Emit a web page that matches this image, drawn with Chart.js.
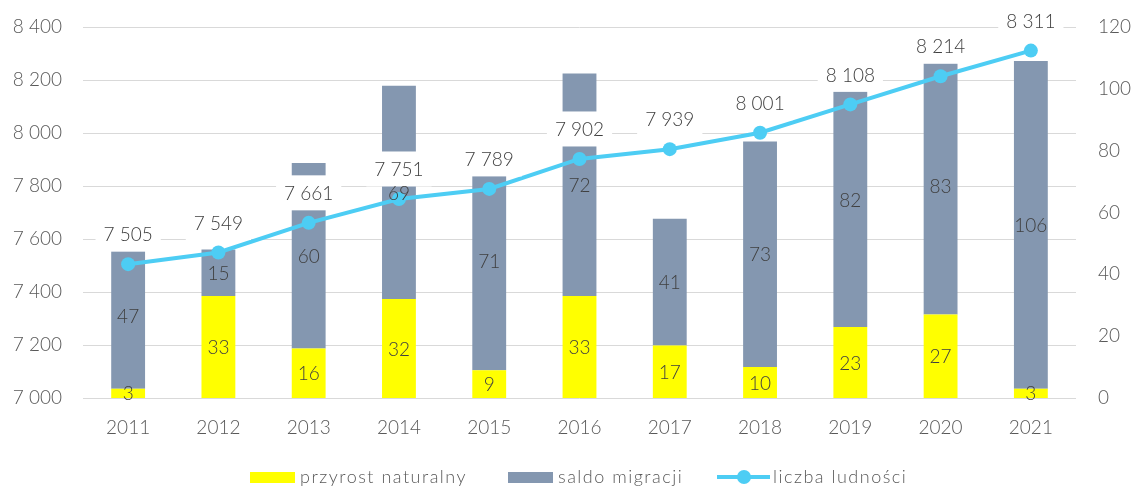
<!DOCTYPE html>
<html><head><meta charset="utf-8">
<script src="https://cdn.jsdelivr.net/npm/chart.js@4.4.1/dist/chart.umd.min.js"></script>
<style>html,body{margin:0;padding:0;background:#fff}#wrap{width:1136px;height:487px}</style>
</head><body><div id="wrap"><canvas id="c" width="1136" height="487"></canvas></div>
<script>
const years = ['2011','2012','2013','2014','2015','2016','2017','2018','2019','2020','2021'];
const przyrost = [3,33,16,32,9,33,17,10,23,27,3];
const saldo = [47,15,60,69,71,72,41,73,82,83,106];
const ludnosc = [7505,7549,7661,7751,7789,7902,7939,8001,8108,8214,8311];
const leftTicks = [7000,7200,7400,7600,7800,8000,8200,8400];
const rightTicks = [0,20,40,60,80,100,120];
const seriesNames = ['przyrost naturalny','saldo migracji','liczba ludności'];

const YELLOW = '#ffff00', GRAY = '#8497b0', CYAN = '#4dcdf4';
const TXT = '#595959', LBL = '#404040';
const FONT = 'Lato, "Noto Sans", sans-serif';

function fmt(v){ return String(v).replace(/\B(?=(\d{3})+(?!\d))/g, ' '); }

const labelPlugin = {
  id: 'lbl',
  afterDatasetsDraw(chart){
    const ctx = chart.ctx;
    ctx.save();
    ctx.font = '300 19px ' + FONT;
    ctx.textAlign = 'center';
    ctx.textBaseline = 'middle';
    const lm = chart.getDatasetMeta(2);
    lm.data.forEach((pt, i) => {
      const t = fmt(ludnosc[i]);
      const w = ctx.measureText(t).width + 16;
      const cy = pt.y - 30;
      ctx.fillStyle = '#fff';
      ctx.fillRect(pt.x - w/2, cy - 17.5, w, 35);
      ctx.fillStyle = LBL;
      ctx.fillText(t, pt.x, cy + 1);
    });
    [0,1].forEach(di => {
      const meta = chart.getDatasetMeta(di);
      const vals = chart.data.datasets[di].data;
      meta.data.forEach((el, i) => {
        const p = el.getProps(['x','y','base'], true);
        ctx.fillStyle = LBL;
        ctx.fillText(String(vals[i]), p.x, (p.y + p.base)/2 + 1);
      });
    });
    ctx.restore();
  },
  afterDraw(chart){
    const ctx = chart.ctx;
    ctx.save();
    ctx.font = '300 18px ' + FONT;
    try { ctx.letterSpacing = '1.5px'; } catch(e) {}
    ctx.textBaseline = 'middle';
    ctx.textAlign = 'left';
    const cy = 477;
    ctx.fillStyle = YELLOW; ctx.fillRect(250, cy-5, 45, 11);
    ctx.fillStyle = GRAY; ctx.fillRect(508, cy-5, 45, 11);
    ctx.strokeStyle = CYAN; ctx.lineWidth = 4;
    ctx.beginPath(); ctx.moveTo(717, cy); ctx.lineTo(770, cy); ctx.stroke();
    ctx.fillStyle = CYAN; ctx.beginPath(); ctx.arc(744, cy, 7, 0, Math.PI*2); ctx.fill();
    ctx.fillStyle = TXT;
    ctx.fillText(seriesNames[0], 300, cy);
    ctx.fillText(seriesNames[1], 558, cy);
    ctx.fillText(seriesNames[2], 773, cy);
    ctx.restore();
  }
};

new Chart(document.getElementById('c'), {
  type: 'bar',
  data: {
    labels: years,
    datasets: [
      { type:'bar', label: seriesNames[0], data: przyrost, backgroundColor: YELLOW, yAxisID:'y1', stack:'s', order: 1, barPercentage: 0.75, categoryPercentage: 0.5 },
      { type:'bar', label: seriesNames[1], data: saldo, backgroundColor: GRAY, yAxisID:'y1', stack:'s', order: 2, barPercentage: 0.75, categoryPercentage: 0.5 },
      { type:'line', label: seriesNames[2], data: ludnosc, borderColor: CYAN, backgroundColor: CYAN, borderWidth: 4, pointRadius: 7, pointBorderWidth: 0, pointBackgroundColor: CYAN, yAxisID:'y', order: 0, tension: 0, clip: false }
    ]
  },
  options: {
    responsive: false,
    animation: false,
    devicePixelRatio: 1,
    layout: { autoPadding: false, padding: { top: 27, left: 0, right: 0, bottom: 0 } },
    plugins: { legend: { display: false }, tooltip: { enabled: false } },
    scales: {
      x: {
        stacked: true,
        grid: { display: false, drawTicks: false },
        border: { display: false },
        ticks: { color: TXT, font: { family: FONT, size: 19, weight: 300 }, padding: 18 },
        afterFit(s){ s.height = 89; }
      },
      y: {
        position: 'left',
        min: 7000, max: 8400,
        afterBuildTicks(s){ s.ticks = leftTicks.map(v => ({value: v})); },
        grid: { color: '#d9d9d9', drawTicks: false, lineWidth: 1 },
        border: { display: false },
        ticks: { color: TXT, font: { family: FONT, size: 19, weight: 300 }, padding: 21, callback: v => fmt(v) },
        afterFit(s){ s.width = 83; s.paddingTop = 0; s.paddingBottom = 0; }
      },
      y1: {
        position: 'right',
        stacked: true,
        min: 0, max: 120,
        afterBuildTicks(s){ s.ticks = rightTicks.map(v => ({value: v})); },
        grid: { display: false, drawTicks: false },
        border: { display: false },
        ticks: { color: TXT, font: { family: FONT, size: 19, weight: 300 }, padding: 22 },
        afterFit(s){ s.width = 60; s.paddingTop = 0; s.paddingBottom = 0; }
      }
    }
  },
  plugins: [labelPlugin]
});
</script>
</body></html>
